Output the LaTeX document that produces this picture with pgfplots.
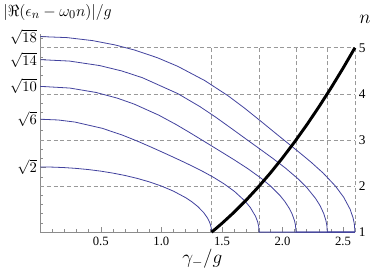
\documentclass[border=0pt]{standalone}
\usepackage{fontspec}
\setmainfont{Liberation Serif}
\usepackage{pgfplots}
\pgfplotsset{compat=1.18}
\definecolor{mblue}{rgb}{0.26,0.26,0.62}
\definecolor{gridgray}{gray}{0.6}
\definecolor{axgray}{gray}{0.55}
\begin{document}
\begin{tikzpicture}
\useasboundingbox (-30.2pt,-27pt) rectangle (249.55pt,174.1pt);
\begin{axis}[
  at={(0,0)}, anchor=south west,
  scale only axis, width=236pt, height=148.67pt,
  xmin=0, xmax=2.598, ymin=0, ymax=4.3,
  axis x line*=bottom, axis y line*=left,
  axis line style={draw=axgray, line width=0.5pt},
  tick align=inside,
  every tick/.style={draw=axgray, line width=0.4pt},
  major tick length=4pt, minor tick length=2.2pt,
  xtick={0.5,1,1.5,2,2.5}, xticklabels={0.5,1.0,1.5,2.0,2.5},
  minor xtick={0.1,0.2,0.3,0.4,0.6,0.7,0.8,0.9,1.1,1.2,1.3,1.4,1.6,1.7,1.8,1.9,2.1,2.2,2.3,2.4},
  ytick={1.41421,2.44949,3.16228,3.74166,4.24264},
  yticklabels={$\sqrt{2}$,$\sqrt{6}$,$\sqrt{10}$,$\sqrt{14}$,$\sqrt{18}$},
  minor ytick={0.2,0.4,0.6,0.8,1.0,1.2,1.6,1.8,2.0,2.2,2.6,2.8,3.0,3.4,3.6,3.8,4.0,4.2},
  xticklabel style={font=\fontsize{9.5}{11}\selectfont},
  yticklabel style={font=\fontsize{10.5}{12}\selectfont, xshift=1pt},
  clip=false,
]
% grid
\draw[gridgray, line width=0.5pt, dash pattern=on 3pt off 2pt] (axis cs:0,1) -- (axis cs:2.598,1);
\draw[gridgray, line width=0.5pt, dash pattern=on 3pt off 2pt] (axis cs:0,2) -- (axis cs:2.598,2);
\draw[gridgray, line width=0.5pt, dash pattern=on 3pt off 2pt] (axis cs:0,3) -- (axis cs:2.598,3);
\draw[gridgray, line width=0.5pt, dash pattern=on 3pt off 2pt] (axis cs:0,4) -- (axis cs:2.598,4);
\draw[gridgray, line width=0.5pt, dash pattern=on 3pt off 2pt] (axis cs:1.41421,0) -- (axis cs:1.41421,4);
\draw[gridgray, line width=0.5pt, dash pattern=on 3pt off 2pt] (axis cs:1.8072,0) -- (axis cs:1.8072,4);
\draw[gridgray, line width=0.5pt, dash pattern=on 3pt off 2pt] (axis cs:2.1118,0) -- (axis cs:2.1118,4);
\draw[gridgray, line width=0.5pt, dash pattern=on 3pt off 2pt] (axis cs:2.3698,0) -- (axis cs:2.3698,4);
\draw[gridgray, line width=0.5pt, dash pattern=on 3pt off 2pt] (axis cs:2.598,0) -- (axis cs:2.598,4);
% n=1
\addplot[mblue, line width=0.6pt] coordinates {
(0,1.41421) (0.1,1.41067) (0.2,1.4) (0.3,1.38203) (0.4,1.35647) (0.5,1.32288) (0.6,1.28062) (0.7,1.22882) (0.8,1.16619) (0.9,1.09087) (1.0,1.0) (1.1,0.88882) (1.2,0.74833) (1.25,0.66144) (1.3,0.55678) (1.35,0.42131) (1.38,0.30919) (1.39,0.26058) (1.40,0.2) (1.405,0.16117) (1.41,0.10909) (1.412,0.0791) (1.41421,0)};
% n=2
\addplot[mblue, line width=0.6pt] coordinates {
(0,2.44949) (0.14806,2.43307) (0.28568,2.38821) (0.51139,2.25254) (0.67811,2.10492) (0.80700,1.96850) (0.91421,1.84577) (1.00938,1.73338) (1.09804,1.62703) (1.18338,1.52265) (1.26727,1.41637) (1.35078,1.30446) (1.43455,1.18249) (1.51892,1.04477) (1.60407,0.88195) (1.69009,0.67408) (1.73343,0.53701) (1.77699,0.34530) (1.79447,0.22519) (1.80322,0.12750) (1.8072,0) (2.598,0)};
% n=3
\addplot[mblue, line width=0.6pt] coordinates {
(0,3.16228) (0.24428,3.12551) (0.45973,3.03061) (0.63557,2.90718) (0.77546,2.77753) (0.97897,2.53702) (1.12161,2.33409) (1.23205,2.16292) (1.36765,1.94567) (1.48685,1.75417) (1.60011,1.57038) (1.71222,1.37957) (1.82546,1.16545) (1.90211,0.99770) (1.97985,0.79264) (2.01915,0.66493) (2.05874,0.50385) (2.07864,0.39862) (2.09861,0.25168) (2.10662,0.15783) (2.1118,0) (2.598,0)};
% n=4
\addplot[mblue, line width=0.6pt] coordinates {
(0,3.74166) (0.24102,3.71098) (0.48985,3.61346) (0.67301,3.49636) (0.84337,3.35000) (1.13600,3.00425) (1.31862,2.72258) (1.44723,2.49592) (1.59172,2.22390) (1.70961,1.99911) (1.81678,1.79645) (1.92042,1.59858) (2.02402,1.39046) (2.12929,1.15413) (2.20082,0.96595) (2.27356,0.72884) (2.31041,0.57273) (2.34012,0.40516) (2.35879,0.24722) (2.36628,0.14055) (2.3698,0) (2.598,0)};
% n=5
\addplot[mblue, line width=0.6pt] coordinates {
(0,4.24264) (0.22256,4.21945) (0.43162,4.15480) (0.61847,4.06040) (0.78025,3.94903) (0.96729,3.78313) (1.13491,3.59719) (1.35850,3.28717) (1.55126,2.95667) (1.68300,2.69769) (1.82690,2.39369) (1.94122,2.14805) (2.04325,1.93146) (2.14081,1.72489) (2.23777,1.51312) (2.33608,1.28001) (2.43675,0.99950) (2.50541,0.75610) (2.55776,0.49839) (2.58244,0.31092) (2.59307,0.17557) (2.598,0)};
% exceptional point curve n(gamma)
\addplot[black, line width=2.2pt] coordinates {
(1.41421,0) (1.45,0.0773) (1.5,0.18994) (1.6,0.43135) (1.7,0.69418) (1.8,0.97831) (1.9,1.28365) (2.0,1.61012) (2.1,1.95764) (2.2,2.32614) (2.3,2.71556) (2.4,3.12587) (2.5,3.557) (2.598,4.0)};
% right-hand n labels
\node[anchor=west, inner sep=0pt, font=\fontsize{10}{12}\selectfont, xshift=2.8pt] at (axis cs:2.598,0) {1};
\node[anchor=west, inner sep=0pt, font=\fontsize{10}{12}\selectfont, xshift=2.8pt] at (axis cs:2.598,1) {2};
\node[anchor=west, inner sep=0pt, font=\fontsize{10}{12}\selectfont, xshift=2.8pt] at (axis cs:2.598,2) {3};
\node[anchor=west, inner sep=0pt, font=\fontsize{10}{12}\selectfont, xshift=2.8pt] at (axis cs:2.598,3) {4};
\node[anchor=west, inner sep=0pt, font=\fontsize{10}{12}\selectfont, xshift=2.8pt] at (axis cs:2.598,4) {5};
% axis labels
\node[anchor=north, inner sep=0pt, font=\fontsize{14}{16}\selectfont, yshift=-12.5pt] at (axis description cs:0.515,0) {$\gamma_-/g$};
\node[anchor=west, inner sep=0pt, font=\fontsize{13}{16}\selectfont, xshift=-27.9pt, yshift=16.2pt] at (axis description cs:0,1) {$|\Re(\epsilon_n-\omega_0 n)|/g$};
\node[inner sep=0pt, font=\fontsize{14}{16}\selectfont, xshift=7.5pt, yshift=11pt] at (axis description cs:1,1) {$n$};
\end{axis}
\end{tikzpicture}
\end{document}
